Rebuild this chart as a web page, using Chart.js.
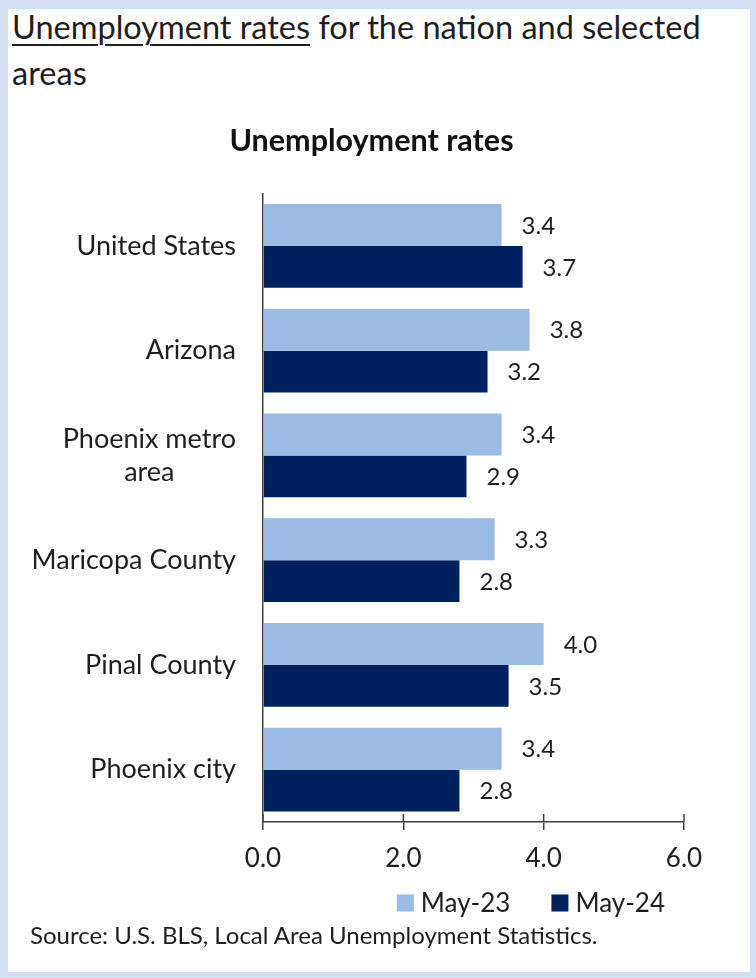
<!DOCTYPE html>
<html>
<head>
<meta charset="utf-8">
<title>Unemployment rates</title>
<script src="https://cdn.jsdelivr.net/npm/chart.js@4.4.1/dist/chart.umd.min.js"></script>
<style>
  html, body { margin: 0; padding: 0; }
  body {
    width: 756px; height: 978px; position: relative; overflow: hidden;
    background: #d3def1; font-family: Lato, sans-serif; color: #1e1e1e;
  }
  .sheet { position: absolute; left: 8px; top: 9px; width: 742px; height: 963px; background: #fff; }
  #heading {
    position: absolute; left: 12px; top: 4px; margin: 0;
    font-size: 32.5px; font-weight: normal; line-height: 46px;
  }
  #heading u { text-decoration-thickness: 2px; text-underline-offset: 5px; }
  #chart { position: absolute; left: 0; top: 0; }
  #source { position: absolute; left: 30px; top: 923px; font-size: 24px; line-height: 24px; }
</style>
</head>
<body>
<div class="sheet"></div>
<h1 id="heading"><u>Unemployment rates</u> for the nation and selected<br>areas</h1>
<canvas id="chart" width="756" height="978"></canvas>
<div id="source">Source: U.S. BLS, Local Area Unemployment Statistics.</div>

<script>
// areas, top to bottom
const areas = ['United States', 'Arizona', ['Phoenix metro', 'area'], 'Maricopa County', 'Pinal County', 'Phoenix city'];
const may23 = [3.4, 3.8, 3.4, 3.3, 4.0, 3.4];
const may24 = [3.7, 3.2, 2.9, 2.8, 3.5, 2.8];
const seriesNames = ['May-23', 'May-24'];
const xTicks = [0, 2, 4, 6];

const INK = '#1e1e1e';
const AXIS = '#404040';

// area names left of the axis; wrapped names are centred on their widest line
const areaLabels = {
    id: 'areaLabels',
    afterDraw(chart) {
        const { ctx, scales: { y } } = chart;
        ctx.save();
        ctx.font = '27px Lato';
        ctx.fillStyle = INK;
        ctx.textBaseline = 'middle';
        ctx.textAlign = 'center';
        const right = y.right - 27;
        areas.forEach((name, i) => {
            const lines = Array.isArray(name) ? name : [name];
            const cy = y.getPixelForValue(i);
            const w = Math.max(...lines.map(l => ctx.measureText(l).width));
            lines.forEach((line, k) => {
                ctx.fillText(line, right - w / 2, cy + (k - (lines.length - 1) / 2) * 33);
            });
        });
        ctx.restore();
    }
};

// rate printed just past the end of each bar
const valueLabels = {
    id: 'valueLabels',
    afterDatasetsDraw(chart) {
        const { ctx } = chart;
        ctx.save();
        ctx.font = '24px Lato';
        ctx.fillStyle = INK;
        ctx.textBaseline = 'middle';
        ctx.textAlign = 'left';
        chart.data.datasets.forEach((ds, di) => {
            chart.getDatasetMeta(di).data.forEach((bar, i) => {
                ctx.fillText(ds.data[i].toFixed(1), bar.x + 20, bar.y + 1);
            });
        });
        ctx.restore();
    }
};

// x tick marks cross the axis line, so add the part above it
const crossTicks = {
    id: 'crossTicks',
    afterDatasetsDraw(chart) {
        const { ctx, scales: { x } } = chart;
        ctx.save();
        ctx.strokeStyle = AXIS;
        ctx.lineWidth = 1.5;
        x.ticks.forEach((t, i) => {
            const px = x.getPixelForTick(i);
            ctx.beginPath();
            ctx.moveTo(px, x.top - 8);
            ctx.lineTo(px, x.top);
            ctx.stroke();
        });
        ctx.restore();
    }
};

// legend row under the axis, ending a little short of the 6.0 tick
const legendRow = {
    id: 'legendRow',
    afterDraw(chart) {
        const { ctx, chartArea } = chart;
        const box = 17, gap = 7, itemGap = 41;
        const cy = chart.scales.x.bottom + 21;
        ctx.save();
        ctx.font = '26px Lato';
        ctx.textBaseline = 'middle';
        ctx.textAlign = 'left';
        const items = chart.data.datasets.map(ds => ({ ds, w: ctx.measureText(ds.label).width }));
        const total = items.reduce((s, it) => s + box + gap + it.w, 0) + itemGap * (items.length - 1);
        let x = chartArea.right - 19 - total;
        items.forEach(({ ds, w }) => {
            ctx.fillStyle = ds.backgroundColor;
            ctx.fillRect(x, cy - box / 2, box, box);
            ctx.fillStyle = INK;
            ctx.fillText(ds.label, x + box + gap, cy + 1);
            x += box + gap + w + itemGap;
        });
        ctx.restore();
    }
};

function drawChart() {
    new Chart(document.getElementById('chart'), {
        type: 'bar',
        data: {
            labels: areas,
            datasets: [
                { label: seriesNames[0], data: may23, backgroundColor: '#9dbae3', categoryPercentage: 0.8, barPercentage: 1.0 },
                { label: seriesNames[1], data: may24, backgroundColor: '#00205f', categoryPercentage: 0.8, barPercentage: 1.0 }
            ]
        },
        options: {
            indexAxis: 'y',
            responsive: false,
            animation: false,
            layout: { padding: { top: 110, left: 59, right: 72, bottom: 96 } },
            plugins: {
                title: {
                    display: true,
                    text: 'Unemployment rates',
                    color: '#111',
                    font: { family: 'Lato', size: 30.5, weight: 'bold' },
                    padding: { top: 13, bottom: 34 }
                },
                legend: { display: false },
                tooltip: { enabled: false }
            },
            scales: {
                x: {
                    min: 0, max: 6,
                    afterBuildTicks: s => { s.ticks = xTicks.map(v => ({ value: v })); },
                    ticks: { callback: v => v.toFixed(1), color: INK, font: { family: 'Lato', size: 26 }, padding: 13 },
                    grid: { drawOnChartArea: false, tickLength: 8, color: AXIS, lineWidth: 1.5 },
                    border: { color: AXIS, width: 1.5 },
                    afterFit: s => { s.height = 60; }
                },
                y: {
                    ticks: { display: false },
                    grid: { display: false },
                    border: { color: AXIS, width: 1.5 },
                    afterFit: s => { s.width = 204; }
                }
            }
        },
        plugins: [areaLabels, valueLabels, crossTicks, legendRow]
    });
}

document.fonts.load('27px Lato').then(drawChart, drawChart);
</script>
</body>
</html>
